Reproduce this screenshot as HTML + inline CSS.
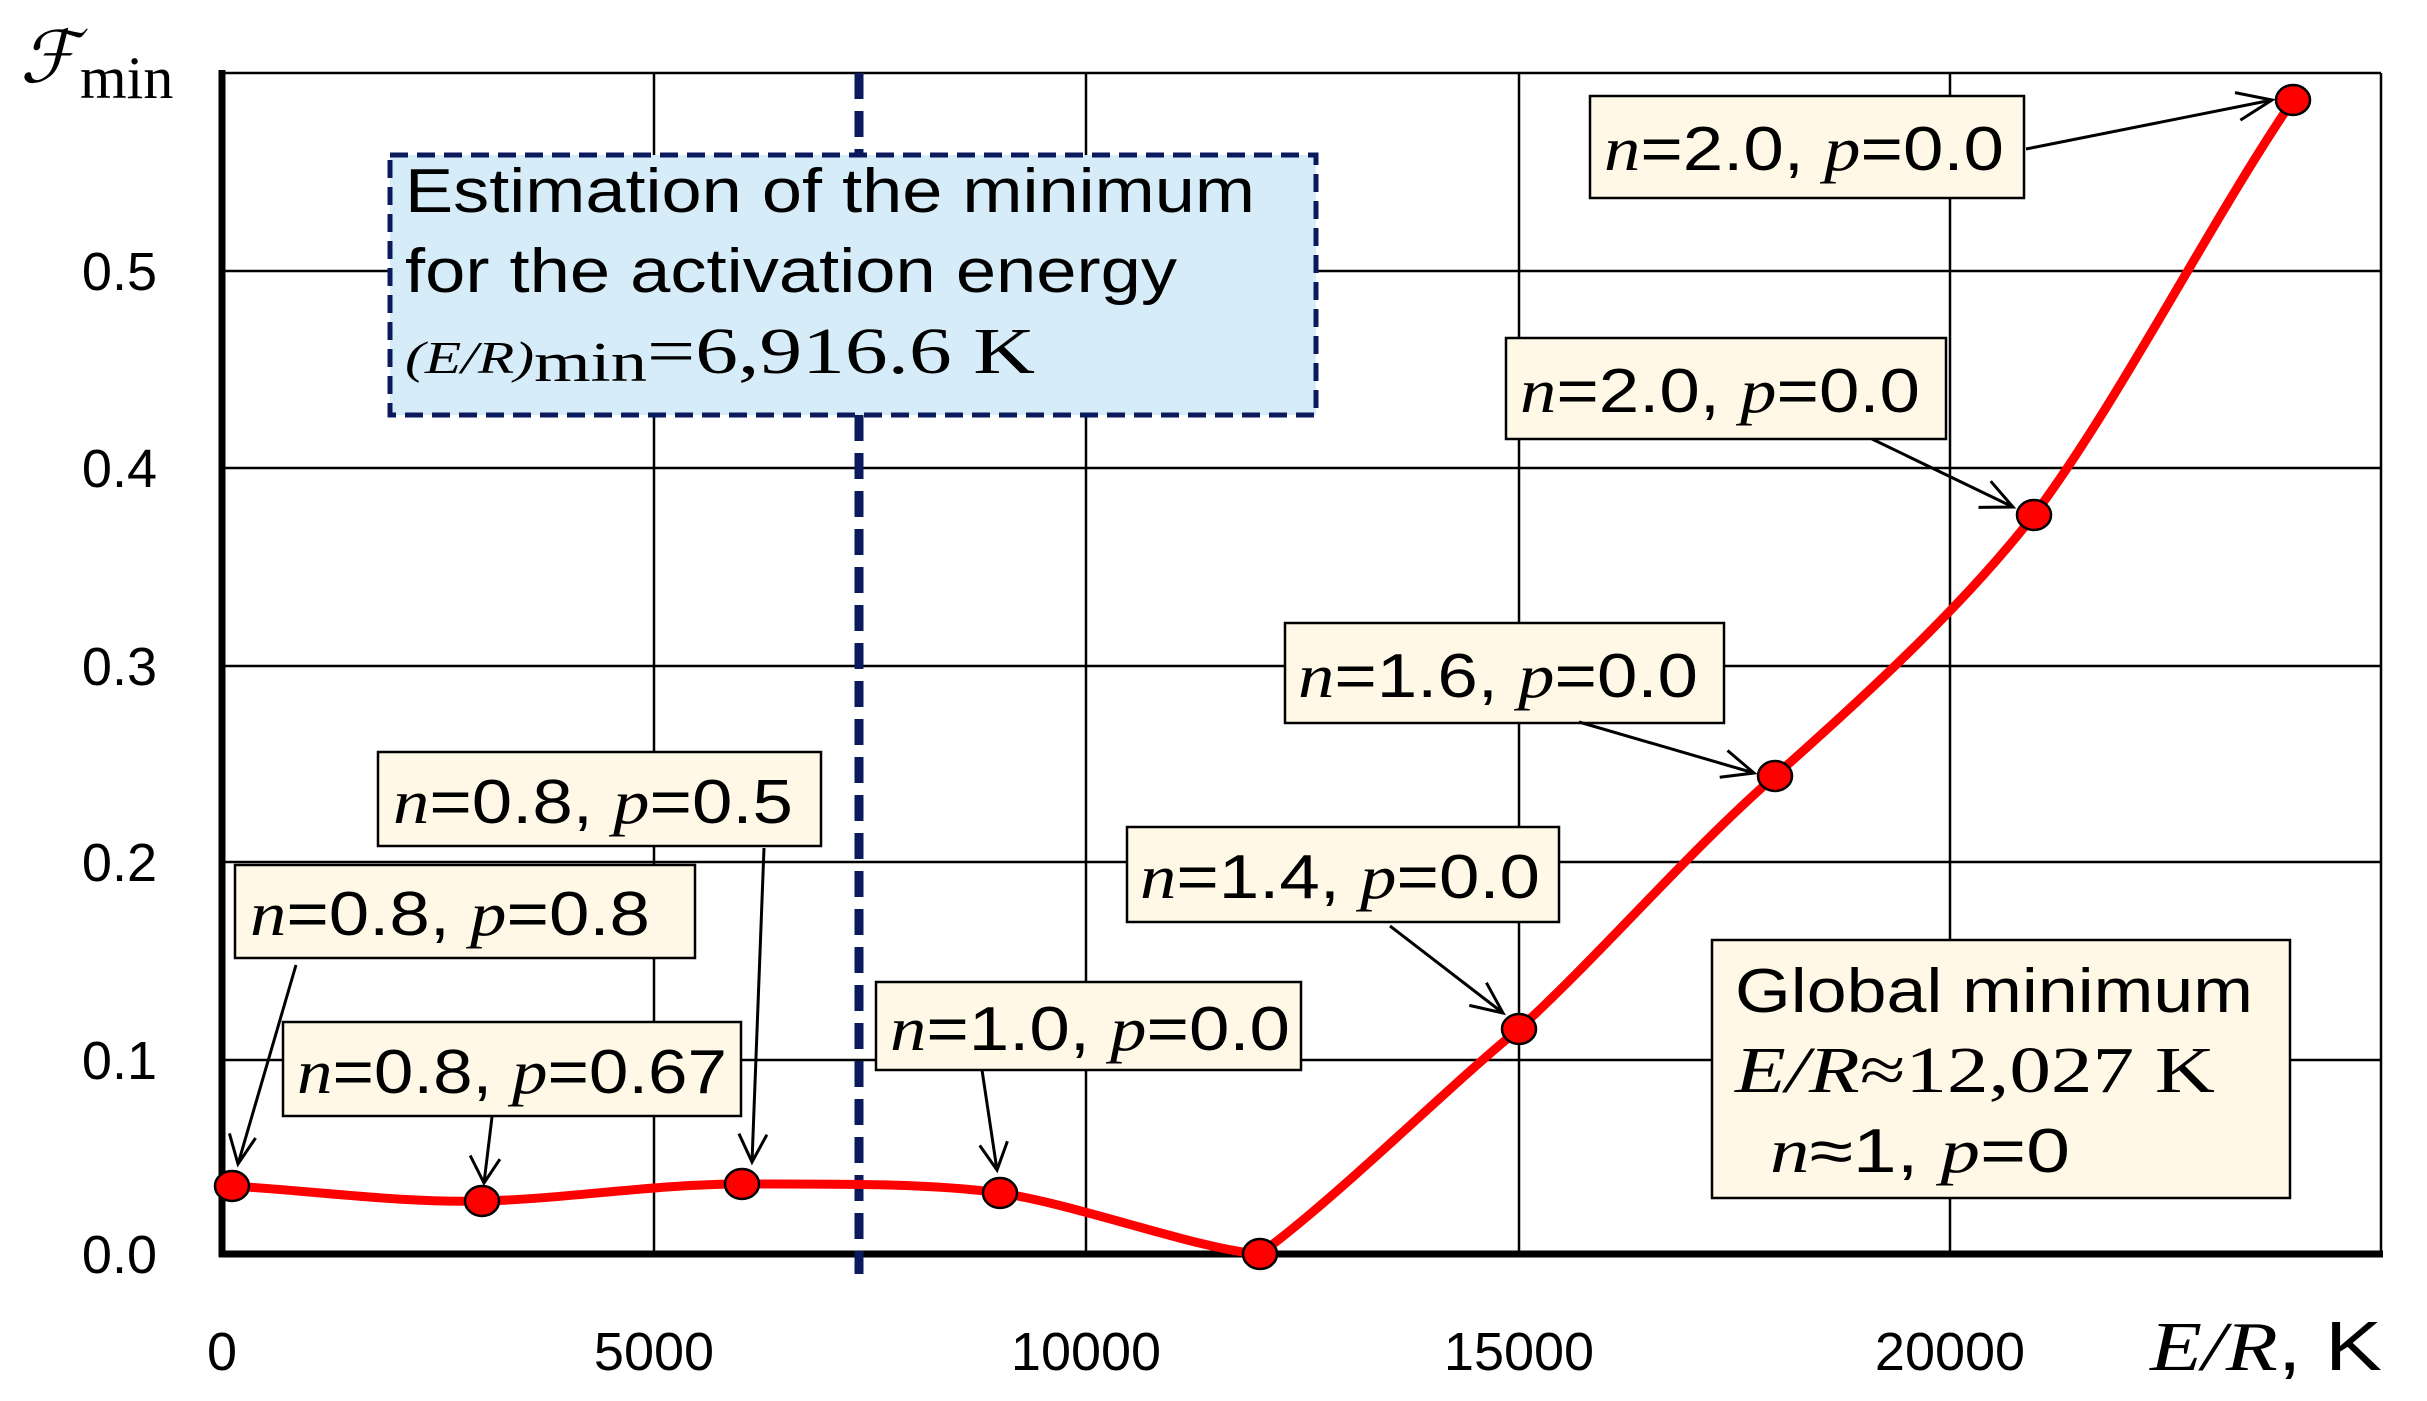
<!DOCTYPE html>
<html><head><meta charset="utf-8"><style>
html,body{margin:0;padding:0;background:#fff;}
svg{display:block;}
.s{font-family:"Liberation Sans",sans-serif;}
.i{font-family:"Liberation Serif",serif;font-style:italic;}
</style></head><body>
<svg id="c" width="2427" height="1401" viewBox="0 0 2427 1401" xmlns="http://www.w3.org/2000/svg">
<rect width="2427" height="1401" fill="#fff"/>
<g stroke="#000" stroke-width="2.5">
<line x1="222" y1="73" x2="2381" y2="73"/>
<line x1="222" y1="271" x2="2381" y2="271"/>
<line x1="222" y1="468" x2="2381" y2="468"/>
<line x1="222" y1="666" x2="2381" y2="666"/>
<line x1="222" y1="862" x2="2381" y2="862"/>
<line x1="222" y1="1060" x2="2381" y2="1060"/>
<line x1="654" y1="73" x2="654" y2="1254"/>
<line x1="1086" y1="73" x2="1086" y2="1254"/>
<line x1="1519" y1="73" x2="1519" y2="1254"/>
<line x1="1950" y1="73" x2="1950" y2="1254"/>
<line x1="2381" y1="73" x2="2381" y2="1254"/>
</g>
<line x1="222" y1="70" x2="222" y2="1257" stroke="#000" stroke-width="7"/>
<line x1="219" y1="1254" x2="2383" y2="1254" stroke="#000" stroke-width="7"/>
<line x1="859" y1="73" x2="859" y2="1274" stroke="#0b1a5c" stroke-width="9" stroke-dasharray="26,12"/>
<rect x="390" y="155" width="926" height="260" fill="#d6ecf8" stroke="#0b1a5c" stroke-width="5" stroke-dasharray="18,9"/>
<text class="s" x="405" y="212" font-size="62" textLength="850" lengthAdjust="spacingAndGlyphs">Estimation of the minimum</text>
<text class="s" x="405" y="292" font-size="62" textLength="772" lengthAdjust="spacingAndGlyphs">for the activation energy</text>
<text x="405" y="373" font-size="66" font-family="Liberation Serif,serif" textLength="630" lengthAdjust="spacingAndGlyphs"><tspan font-size="46" font-style="italic">(E/R)</tspan><tspan font-size="56" dy="8">min</tspan><tspan dy="-8">=6,916.6 K</tspan></text>
<path id="curve" fill="none" stroke="#ff0000" stroke-width="9" stroke-linejoin="round" d="M232,1186 C315,1191 400,1203 482,1201 C565,1199 655,1184 742,1184 C830,1184 930,1183 1000,1193 C1080,1205 1200,1250 1260,1254 C1340,1195 1450,1085 1519,1029 C1600,955 1690,850 1775,776 C1860,700 1960,610 2034,515 C2120,400 2210,222 2293,100"/>
<g fill="#ff0000" stroke="#000" stroke-width="2.5">
<ellipse cx="232" cy="1186" rx="17" ry="15"/>
<ellipse cx="482" cy="1201" rx="17" ry="15"/>
<ellipse cx="742" cy="1184" rx="17" ry="15"/>
<ellipse cx="1000" cy="1193" rx="17" ry="15"/>
<ellipse cx="1260" cy="1254" rx="17" ry="15"/>
<ellipse cx="1519" cy="1029" rx="17" ry="15"/>
<ellipse cx="1775" cy="776" rx="17" ry="15"/>
<ellipse cx="2034" cy="515" rx="17" ry="15"/>
<ellipse cx="2293" cy="100" rx="17" ry="15"/>
</g>
<g fill="#fff8e6" stroke="#000" stroke-width="2.5">
<rect x="378" y="752" width="443" height="94"/>
<rect x="235" y="865" width="460" height="93"/>
<rect x="283" y="1022" width="458" height="94"/>
<rect x="876" y="982" width="425" height="88"/>
<rect x="1127" y="827" width="432" height="95"/>
<rect x="1285" y="623" width="439" height="100"/>
<rect x="1506" y="338" width="440" height="101"/>
<rect x="1590" y="96" width="434" height="102"/>
<rect x="1712" y="940" width="578" height="258"/>
</g>
<g font-size="62" font-family="Liberation Sans,sans-serif">
<text x="393" y="823" textLength="400" lengthAdjust="spacingAndGlyphs"><tspan class="i">n</tspan>=0.8, <tspan class="i">p</tspan>=0.5</text>
<text x="250" y="935" textLength="400" lengthAdjust="spacingAndGlyphs"><tspan class="i">n</tspan>=0.8, <tspan class="i">p</tspan>=0.8</text>
<text x="297" y="1093" textLength="430" lengthAdjust="spacingAndGlyphs"><tspan class="i">n</tspan>=0.8, <tspan class="i">p</tspan>=0.67</text>
<text x="890" y="1050" textLength="400" lengthAdjust="spacingAndGlyphs"><tspan class="i">n</tspan>=1.0, <tspan class="i">p</tspan>=0.0</text>
<text x="1140" y="898" textLength="400" lengthAdjust="spacingAndGlyphs"><tspan class="i">n</tspan>=1.4, <tspan class="i">p</tspan>=0.0</text>
<text x="1298" y="697" textLength="400" lengthAdjust="spacingAndGlyphs"><tspan class="i">n</tspan>=1.6, <tspan class="i">p</tspan>=0.0</text>
<text x="1520" y="412" textLength="400" lengthAdjust="spacingAndGlyphs"><tspan class="i">n</tspan>=2.0, <tspan class="i">p</tspan>=0.0</text>
<text x="1604" y="170" textLength="400" lengthAdjust="spacingAndGlyphs"><tspan class="i">n</tspan>=2.0, <tspan class="i">p</tspan>=0.0</text>
<text x="1735" y="1012" textLength="518" lengthAdjust="spacingAndGlyphs">Global minimum</text>
<text x="1735" y="1092" font-size="66" font-family="Liberation Serif,serif" textLength="480" lengthAdjust="spacingAndGlyphs"><tspan font-style="italic">E/R</tspan>≈12,027 K</text>
<text x="1770" y="1172" textLength="300" lengthAdjust="spacingAndGlyphs"><tspan class="i">n</tspan>≈1,  <tspan class="i">p</tspan>=0</text>
</g>
<g stroke="#000" stroke-width="3" fill="none">
<path d="M296,965 L238,1164 M229.4,1133.4 L238,1164 L255.6,1138"/>
<path d="M492,1117 L484,1183 M470.2,1155.5 L484,1183 L499.9,1159.2"/>
<path d="M764,848 L752,1162 M738.9,1133.6 L752,1162 L766.9,1134.7"/>
<path d="M982,1070 L997,1170 M979.7,1145.4 L997,1170 L1007.4,1141.3"/>
<path d="M1390,926 L1503,1013 M1469.3,1005.4 L1503,1013 L1486.4,982.7"/>
<path d="M1579,722 L1754,773 M1719.7,777.3 L1754,773 L1727.5,750.5"/>
<path d="M1872,439 L2013,507 M1978.5,507.4 L2013,507 L1990.7,481.2"/>
<path d="M2026,149 L2272,100 M2240.4,120.1 L2272,100 L2235,92.6"/>
</g>
<g class="s" font-size="54" text-anchor="end">
<text x="157" y="290">0.5</text>
<text x="157" y="487">0.4</text>
<text x="157" y="685">0.3</text>
<text x="157" y="881">0.2</text>
<text x="157" y="1079">0.1</text>
<text x="157" y="1273">0.0</text>
</g>
<g class="s" font-size="54" text-anchor="middle">
<text x="222" y="1370">0</text>
<text x="654" y="1370">5000</text>
<text x="1086" y="1370">10000</text>
<text x="1519" y="1370">15000</text>
<text x="1950" y="1370">20000</text>
</g>
<text x="2150" y="1370" font-size="70" textLength="232" lengthAdjust="spacingAndGlyphs"><tspan font-family="Liberation Serif,serif" font-style="italic">E/R</tspan><tspan font-family="Liberation Sans,sans-serif">, K</tspan></text>
<text x="20" y="82" font-size="72" font-family="Liberation Serif,serif" font-style="italic">ℱ</text>
<text x="80" y="98" font-size="60" font-family="Liberation Serif,serif">min</text>
</svg>
</body></html>
